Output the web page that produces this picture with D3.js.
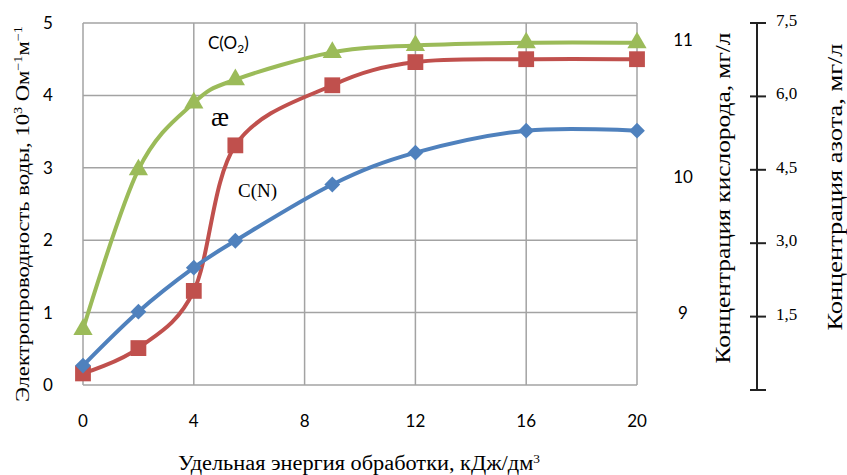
<!DOCTYPE html>
<html>
<head>
<meta charset="utf-8">
<script src="https://cdn.jsdelivr.net/npm/d3@7"></script>
<style>
  body { margin: 0; background: #fff; }
</style>
</head>
<body>
<div id="chart"></div>
<script>
// energy, kJ/dm3
const energy = [0, 2, 4, 5.5, 9, 12, 16, 20];
// conductivity, 10^3 Ohm^-1 m^-1 (left axis)
const conductivity = [0.16, 0.51, 1.3, 3.31, 4.14, 4.46, 4.5, 4.5];
// oxygen, mg/l
const oxygen = [8.88, 10.05, 10.54, 10.71, 10.91, 10.96, 10.98, 10.98];
// nitrogen, mg/l
const nitrogen = [0.5, 1.6, 2.5, 3.05, 4.2, 4.85, 5.3, 5.3];

const xTicks = [0, 4, 8, 12, 16, 20];
const leftTicks = [0, 1, 2, 3, 4, 5];
const oxygenTicks = [9, 10, 11];
const nitrogenTicks = [0, 1.5, 3.0, 4.5, 6.0, 7.5];

const width = 847, height = 475;
const plot = { left: 83, right: 637, top: 23, bottom: 385 };

const svg = d3.select("#chart").append("svg")
    .attr("width", width)
    .attr("height", height)
    .style("background", "#fff");

const x = d3.scaleLinear().domain([0, 20]).range([plot.left, plot.right]);
const yLeft = d3.scaleLinear().domain([0, 5]).range([plot.bottom, plot.top]);
const yOxy = d3.scaleLinear().domain([8.473, 11.125]).range([plot.bottom, plot.top]);
const yNit = d3.scaleLinear().domain([0, 7.5]).range([390, 23]);

const sans = "Lato, 'Open Sans', sans-serif";
const serif = "'Liberation Serif', 'Times New Roman', serif";
const gridColor = "#a3a3a3";

// grid
svg.append("g")
    .selectAll("line")
    .data(leftTicks)
    .join("line")
    .attr("x1", plot.left).attr("x2", plot.right)
    .attr("y1", d => yLeft(d)).attr("y2", d => yLeft(d))
    .attr("stroke", gridColor).attr("stroke-width", 1.5);

svg.append("g")
    .selectAll("line")
    .data(xTicks)
    .join("line")
    .attr("x1", d => x(d)).attr("x2", d => x(d))
    .attr("y1", plot.top).attr("y2", plot.bottom)
    .attr("stroke", gridColor).attr("stroke-width", 1.5);

// left tick labels
svg.append("g")
    .selectAll("text")
    .data(leftTicks)
    .join("text")
    .attr("x", 48)
    .attr("y", d => yLeft(d))
    .attr("dy", "0.35em")
    .attr("text-anchor", "middle")
    .style("font-family", sans).style("font-size", "17px")
    .text(d => d);

// bottom tick labels
svg.append("g")
    .selectAll("text")
    .data(xTicks)
    .join("text")
    .attr("x", d => x(d))
    .attr("y", 421)
    .attr("dy", "0.35em")
    .attr("text-anchor", "middle")
    .style("font-family", sans).style("font-size", "17px")
    .text(d => d);

// oxygen tick labels (no axis line)
svg.append("g")
    .selectAll("text")
    .data(oxygenTicks)
    .join("text")
    .attr("x", 683)
    .attr("y", d => yOxy(d))
    .attr("dy", "0.35em")
    .attr("text-anchor", "middle")
    .style("font-family", sans).style("font-size", "17px")
    .text(d => d);

// nitrogen axis
const nAxis = svg.append("g");
nAxis.append("line")
    .attr("x1", 757).attr("x2", 757)
    .attr("y1", yNit(0)).attr("y2", yNit(7.5))
    .attr("stroke", "#222").attr("stroke-width", 2);
nAxis.selectAll(".tk")
    .data(nitrogenTicks)
    .join("line")
    .attr("class", "tk")
    .attr("x1", 750).attr("x2", 766)
    .attr("y1", d => yNit(d)).attr("y2", d => yNit(d))
    .attr("stroke", "#222").attr("stroke-width", 2);
nAxis.selectAll("text")
    .data(nitrogenTicks.filter(d => d > 0))
    .join("text")
    .attr("x", 776)
    .attr("y", d => yNit(d) - 3)
    .attr("dy", "0.35em")
    .style("font-family", serif).style("font-size", "17px")
    .text(d => d.toFixed(1).replace(".", ","));

// series
const line = (yScale) => d3.line()
    .x(d => x(d[0]))
    .y(d => yScale(d[1]))
    .curve(d3.curveCardinal.tension(0));

const series = [
    { values: oxygen, y: yOxy, color: "#9bbb59", marker: d3.symbolTriangle, size: 160, rot: 0 },
    { values: conductivity, y: yLeft, color: "#c0504d", marker: d3.symbolSquare, size: 250, rot: 0 },
    { values: nitrogen, y: yNit, color: "#4f81bd", marker: d3.symbolSquare, size: 125, rot: 45 }
];

series.forEach(s => {
    const pts = energy.map((e, i) => [e, s.values[i]]);
    const g = svg.append("g");
    g.append("path")
        .datum(pts)
        .attr("d", line(s.y))
        .attr("fill", "none")
        .attr("stroke", s.color)
        .attr("stroke-width", 4);
    g.selectAll("path.m")
        .data(pts)
        .join("path")
        .attr("class", "m")
        .attr("transform", d => `translate(${x(d[0])},${s.y(d[1])}) rotate(${s.rot})`)
        .attr("d", d3.symbol().type(s.marker).size(s.size))
        .attr("fill", s.color);
});

// inline labels
const lblO = svg.append("text")
    .attr("x", 208).attr("y", 49)
    .style("font-family", sans).style("font-size", "17px");
lblO.append("tspan").text("C(O");
lblO.append("tspan").attr("dy", 4).style("font-size", "12px").text("2");
lblO.append("tspan").attr("dy", -4).text(")");

svg.append("text")
    .attr("x", 211).attr("y", 126)
    .style("font-family", serif).style("font-size", "27px")
    .text("æ");

svg.append("text")
    .attr("x", 238).attr("y", 197)
    .style("font-family", serif).style("font-size", "19px")
    .text("C(N)");

// axis titles
const tLeft = svg.append("text")
    .attr("transform", "translate(29,214) rotate(-90)")
    .attr("text-anchor", "middle")
    .attr("textLength", 376)
    .attr("lengthAdjust", "spacingAndGlyphs")
    .style("font-family", serif).style("font-size", "19px");
tLeft.append("tspan").text("Электропроводность воды, 10");
tLeft.append("tspan").attr("dy", -7).style("font-size", "12px").text("3");
tLeft.append("tspan").attr("dy", 7).text(" Ом");
tLeft.append("tspan").attr("dy", -7).style("font-size", "12px").text("−1");
tLeft.append("tspan").attr("dy", 7).text("м");
tLeft.append("tspan").attr("dy", -7).style("font-size", "12px").text("−1");

svg.append("text")
    .attr("transform", "translate(730,198) rotate(-90)")
    .attr("text-anchor", "middle")
    .attr("textLength", 331)
    .attr("lengthAdjust", "spacingAndGlyphs")
    .style("font-family", serif).style("font-size", "20px")
    .text("Концентрация кислорода, мг/л");

svg.append("text")
    .attr("transform", "translate(842,187) rotate(-90)")
    .attr("text-anchor", "middle")
    .attr("textLength", 287)
    .attr("lengthAdjust", "spacingAndGlyphs")
    .style("font-family", serif).style("font-size", "20px")
    .text("Концентрация азота, мг/л");

const tX = svg.append("text")
    .attr("x", 178).attr("y", 470)
    .attr("textLength", 362)
    .attr("lengthAdjust", "spacingAndGlyphs")
    .style("font-family", serif).style("font-size", "20px");
tX.append("tspan").text("Удельная энергия обработки, кДж/дм");
tX.append("tspan").attr("dy", -7).style("font-size", "12px").text("3");
</script>
</body>
</html>
